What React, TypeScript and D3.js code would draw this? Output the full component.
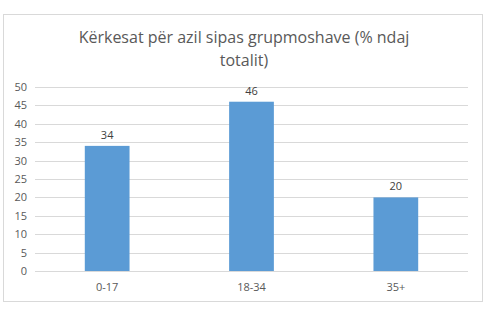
import React from "react";
import * as d3 from "d3";

const categories = ["0-17", "18-34", "35+"];
const values = [34, 46, 20];
const yTicks = [0, 5, 10, 15, 20, 25, 30, 35, 40, 45, 50];
const titleLines = ["Kërkesat për azil sipas grupmoshave (% ndaj", "totalit)"];

export default function App() {
  const W = 504, H = 329;
  const left = 35, right = 468, top = 87, bottom = 271;
  const x = d3.scaleBand().domain(categories).range([left, right]).paddingInner(0.69).paddingOuter(0.345);
  const y = d3.scaleLinear().domain([0, 50]).range([bottom, top]);
  const font = "'Open Sans', sans-serif";
  return (
    <svg width={W} height={H} style={{ position: "absolute", left: 0, top: 0 }}>
      <rect x={0} y={0} width={W} height={H} fill="#fff" />
      <rect x={3.5} y={14.5} width={479} height={287} fill="#fff" stroke="#d9d9d9" />
      {titleLines.map((t, i) => (
        <text key={i} x={244} y={43 + i * 23} textAnchor="middle" fontFamily={font} fontSize={16} fill="#595959">{t}</text>
      ))}
      {yTicks.map((t) => (
        <g key={t}>
          <line x1={left} x2={right} y1={Math.round(y(t)) + 0.5} y2={Math.round(y(t)) + 0.5} stroke="#d9d9d9" />
          <text x={27} y={y(t) + 4} textAnchor="end" fontFamily={font} fontSize={11} fill="#595959">{t}</text>
        </g>
      ))}
      {categories.map((c, i) => (
        <g key={c}>
          <rect x={x(c)} y={y(values[i])} width={x.bandwidth()} height={y(0) - y(values[i])} fill="#5b9bd5" />
          <text x={(x(c) ?? 0) + x.bandwidth() / 2} y={y(values[i]) - 7} textAnchor="middle" fontFamily={font} fontSize={11} fill="#404040">{values[i]}</text>
          <text x={(x(c) ?? 0) + x.bandwidth() / 2} y={291} textAnchor="middle" fontFamily={font} fontSize={11} fill="#595959">{c}</text>
        </g>
      ))}
    </svg>
  );
}
